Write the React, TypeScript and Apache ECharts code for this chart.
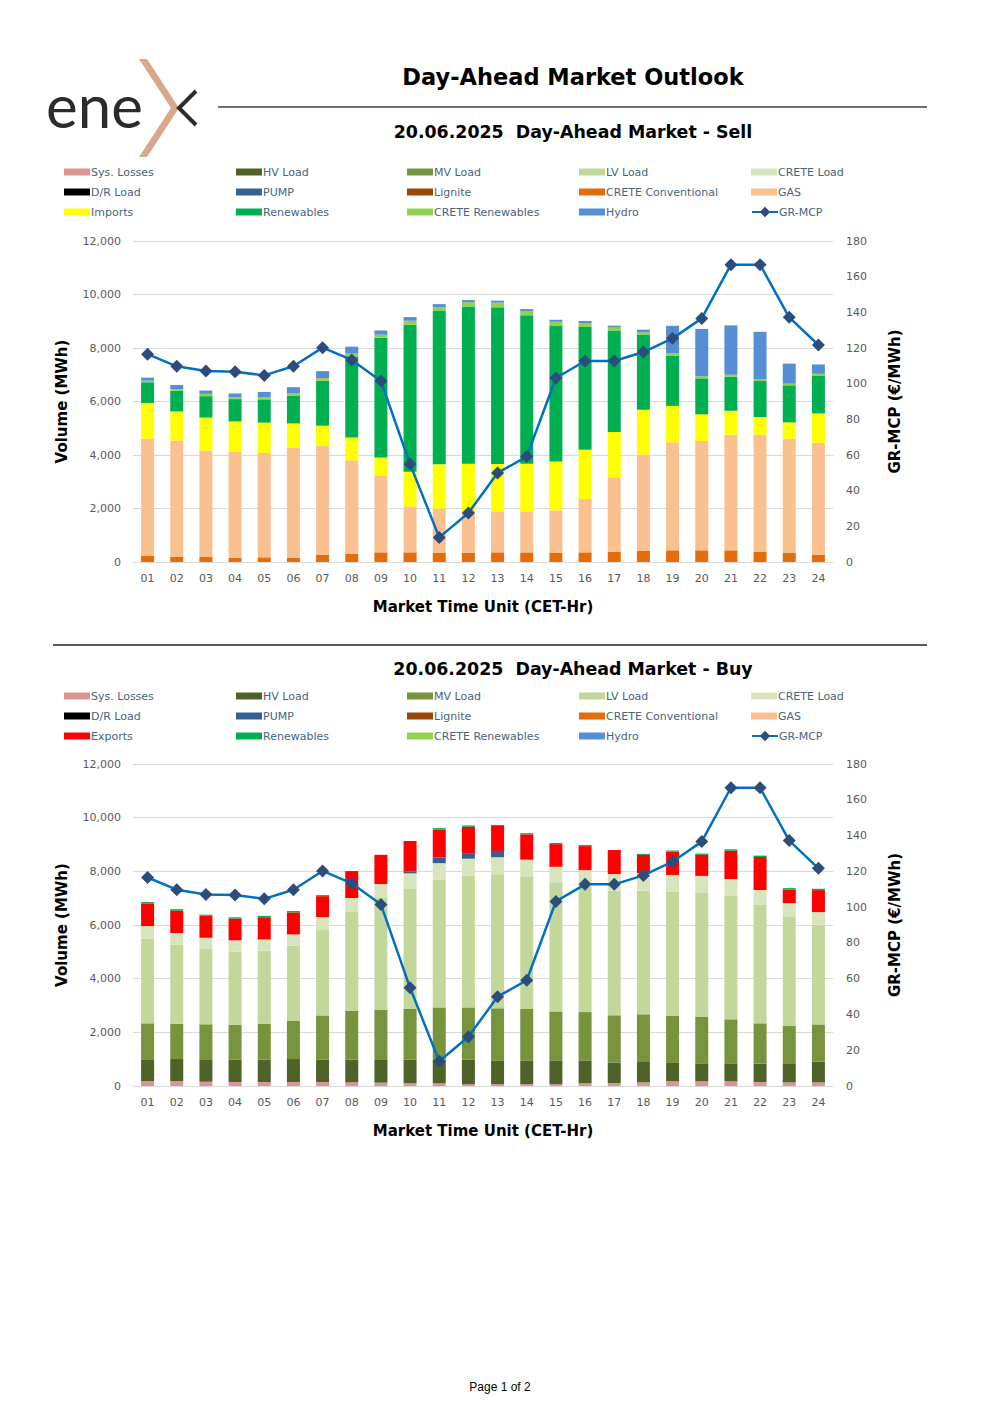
import React, { useEffect, useRef } from "react";
import * as echarts from "echarts";

const hours = ["01","02","03","04","05","06","07","08","09","10","11","12","13","14","15","16","17","18","19","20","21","22","23","24"];
const volumeTicks = { min: 0, max: 12000, interval: 2000 };
const priceTicks = { min: 0, max: 180, interval: 20 };

// GR-MCP (€/MWh)
const grMcp = [116.55,109.73,107.06,106.72,104.62,109.73,120.21,113.29,101.49,54.9,13.8,27.5,49.93,59.1,103.2,112.71,112.71,117.72,125.4,136.61,166.72,166.72,137.2,121.7];

// SELL (MWh)
const sellLignite: number[] = [];
const sellDrLoad: number[] = [];
const sellCreteConv = [240,200,190,160,175,165,275,310,360,360,350,350,360,360,350,360,385,425,435,435,435,385,335,275];
const sellGas = [4370,4335,3975,3975,3900,4095,4060,3490,2880,1720,1645,1550,1535,1535,1580,1995,2780,3590,4040,4090,4325,4375,4275,4185];
const sellImports = [1335,1095,1235,1120,1135,920,760,850,670,1295,1655,1775,1770,1780,1830,1845,1695,1680,1360,995,895,660,610,1095];
const sellRenewables = [775,770,800,835,870,1045,1680,3015,4475,5495,5730,5880,5855,5545,5060,4585,3790,2790,1870,1345,1270,1345,1385,1420];
const sellCreteRen = [60,65,85,75,75,75,100,125,110,150,150,160,175,150,160,135,110,100,90,75,75,60,60,60];
const sellHydro = [110,150,125,135,200,235,260,260,160,135,110,75,75,85,75,90,75,100,1035,1770,1845,1780,750,350];

// BUY (MWh)
const buySysLosses = [185,185,160,150,150,150,150,135,125,100,100,75,75,75,75,100,110,135,175,175,175,150,135,135];
const buyHv = [810,820,835,830,830,855,830,845,845,880,880,905,880,880,880,855,760,760,685,670,670,680,685,770];
const buyMv = [1340,1315,1305,1305,1340,1430,1650,1815,1875,1890,1950,1950,1940,1915,1825,1800,1765,1775,1750,1740,1640,1505,1415,1390];
const buyLv = [3155,2945,2805,2720,2720,2795,3180,3690,4160,4470,4755,4905,4995,4945,4810,4670,4645,4610,4635,4610,4610,4410,4060,3715];
const buyCreteLoad = [470,435,420,425,420,420,485,520,520,585,620,635,635,620,580,620,620,650,620,635,620,560,520,470];
const buyPump = [0,0,0,0,0,0,0,0,0,75,210,210,235,0,0,0,0,0,0,0,0,0,0,0];
const buyExports = [845,830,820,805,830,820,780,1005,1090,1130,1045,980,930,945,845,895,895,680,870,780,1055,1230,510,820];
const buyRenewables = [50,60,40,50,50,50,40,0,0,0,50,50,40,40,40,40,0,40,40,50,50,50,50,50];

const C = {
  sysLosses: "#da9694",
  hv: "#4f6228",
  mv: "#77933c",
  lv: "#c4d79b",
  creteLoad: "#d8e4bc",
  dr: "#000000",
  pump: "#366092",
  lignite: "#974706",
  creteConv: "#e46c0a",
  gas: "#fac090",
  imports: "#ffff00",
  exports: "#ff0000",
  renewables: "#00b050",
  creteRen: "#92d050",
  hydro: "#558ed5",
  line: "#0070c0",
  marker: "#2c4d7c",
};

const sellLegendCols = [
  ["Sys. Losses", "D/R Load", "Imports"],
  ["HV Load", "PUMP", "Renewables"],
  ["MV Load", "Lignite", "CRETE Renewables"],
  ["LV Load", "CRETE Conventional", "Hydro"],
  ["CRETE Load", "GAS"],
];
const buyLegendCols = [
  ["Sys. Losses", "D/R Load", "Exports"],
  ["HV Load", "PUMP", "Renewables"],
  ["MV Load", "Lignite", "CRETE Renewables"],
  ["LV Load", "CRETE Conventional", "Hydro"],
  ["CRETE Load", "GAS"],
];

const FONT = "DejaVu Sans";

export default function App() {
  const ref = useRef<HTMLDivElement>(null);
  useEffect(() => {
    if (!ref.current) return;
    const chart = echarts.init(ref.current, undefined, { renderer: "svg" });

    const colLeft = [64, 236, 407, 579, 751];
    const legendText = { fontFamily: FONT, fontSize: 11, color: "#47647a", lineHeight: 20, padding: [0, 0, 0, -4] };
    const mkLegends = (cols: string[][], top: number) => [
      ...cols.map((names, i) => ({
        orient: "vertical",
        left: colLeft[i],
        top,
        padding: 0,
        itemGap: 0,
        itemWidth: 26,
        itemHeight: 7,
        selectedMode: false,
        textStyle: legendText,
        data: names.map((n) => ({ name: n, icon: "rect" })),
      })),
      {
        orient: "vertical",
        left: 751,
        top: top + 40,
        padding: 0,
        itemGap: 0,
        itemWidth: 26,
        itemHeight: 13,
        selectedMode: false,
        textStyle: legendText,
        data: [{ name: "GR-MCP" }],
      },
    ];

    const bar = (name: string, data: number[], color: string, idx: number, stack: string) => ({
      name,
      type: "bar",
      stack,
      data,
      barWidth: 13,
      xAxisIndex: idx,
      yAxisIndex: idx * 2,
      itemStyle: { color },
      emphasis: { disabled: true },
    });
    const line = (idx: number) => ({
      name: "GR-MCP",
      type: "line",
      data: grMcp,
      xAxisIndex: idx,
      yAxisIndex: idx * 2 + 1,
      symbol: "diamond",
      symbolSize: 13,
      z: 5,
      lineStyle: { color: C.line, width: 2.5 },
      itemStyle: { color: C.marker },
      emphasis: { disabled: true },
    });

    const xAxis = (idx: number) => ({
      type: "category",
      gridIndex: idx,
      data: hours,
      axisLine: { lineStyle: { color: "#d9d9d9", width: 1 } },
      axisTick: { show: false },
      axisLabel: { interval: 0, fontFamily: FONT, fontSize: 11, color: "#595959", margin: 11 },
      name: "Market Time Unit (CET-Hr)",
      nameLocation: "middle",
      nameGap: 37,
      nameTextStyle: { fontFamily: FONT, fontSize: 15, fontWeight: "bold", color: "#000" },
    });
    const yLeft = (idx: number) => ({
      type: "value",
      gridIndex: idx,
      ...volumeTicks,
      axisLine: { show: false },
      axisTick: { show: false },
      splitLine: { lineStyle: { color: "#d9d9d9", width: 1 } },
      axisLabel: {
        fontFamily: FONT,
        fontSize: 11,
        color: "#595959",
        margin: 12,
        formatter: (v: number) => v.toLocaleString("en-US"),
      },
      name: "Volume (MWh)",
      nameLocation: "middle",
      nameRotate: 90,
      nameGap: 64,
      nameTextStyle: { fontFamily: FONT, fontSize: 15, fontWeight: "bold", color: "#000" },
    });
    const yRight = (idx: number) => ({
      type: "value",
      gridIndex: idx,
      position: "right",
      ...priceTicks,
      axisLine: { show: false },
      axisTick: { show: false },
      splitLine: { show: false },
      axisLabel: { fontFamily: FONT, fontSize: 11, color: "#595959", margin: 13 },
      name: "GR-MCP (€/MWh)",
      nameLocation: "middle",
      nameRotate: 90,
      nameGap: 54,
      nameTextStyle: { fontFamily: FONT, fontSize: 15, fontWeight: "bold", color: "#000" },
    });

    chart.setOption({
      animation: false,
      backgroundColor: "#ffffff",
      grid: [
        { left: 133, width: 700, top: 241, height: 321 },
        { left: 133, width: 700, top: 764, height: 322 },
      ],
      legend: [...mkLegends(sellLegendCols, 162), ...mkLegends(buyLegendCols, 686)],
      xAxis: [xAxis(0), xAxis(1)],
      yAxis: [yLeft(0), yRight(0), yLeft(1), yRight(1)],
      series: [
        bar("Lignite", sellLignite, C.lignite, 0, "sell"),
        bar("D/R Load", sellDrLoad, C.dr, 0, "sell"),
        bar("CRETE Conventional", sellCreteConv, C.creteConv, 0, "sell"),
        bar("GAS", sellGas, C.gas, 0, "sell"),
        bar("Imports", sellImports, C.imports, 0, "sell"),
        bar("Renewables", sellRenewables, C.renewables, 0, "sell"),
        bar("CRETE Renewables", sellCreteRen, C.creteRen, 0, "sell"),
        bar("Hydro", sellHydro, C.hydro, 0, "sell"),
        line(0),
        bar("Sys. Losses", buySysLosses, C.sysLosses, 1, "buy"),
        bar("HV Load", buyHv, C.hv, 1, "buy"),
        bar("MV Load", buyMv, C.mv, 1, "buy"),
        bar("LV Load", buyLv, C.lv, 1, "buy"),
        bar("CRETE Load", buyCreteLoad, C.creteLoad, 1, "buy"),
        bar("PUMP", buyPump, C.pump, 1, "buy"),
        bar("Exports", buyExports, C.exports, 1, "buy"),
        bar("Renewables", buyRenewables, C.renewables, 1, "buy"),
        line(1),
      ],
      graphic: [
        // logo
        {
          type: "text",
          x: 46,
          y: 105,
          style: { text: "ene", fontFamily: "Lato", fontWeight: "normal", fontSize: 60, fill: "#2b2b2b", textVerticalAlign: "middle" },
        },
        {
          type: "polygon",
          shape: { points: [[139, 59], [147, 59], [179, 108], [147, 157], [139, 157], [171, 108]] },
          style: { fill: "#d9a88c" },
        },
        {
          type: "polyline",
          shape: { points: [[196, 91], [179, 108], [196, 125]] },
          style: { stroke: "#2b2b2b", lineWidth: 4, fill: null },
        },
        // titles
        {
          type: "text",
          x: 573,
          y: 77,
          style: { text: "Day-Ahead Market Outlook", fontFamily: FONT, fontWeight: "bold", fontSize: 22.5, fill: "#000", textAlign: "center", textVerticalAlign: "middle" },
        },
        {
          type: "line",
          shape: { x1: 218, y1: 107, x2: 927, y2: 107 },
          style: { stroke: "#404040", lineWidth: 1.3 },
        },
        {
          type: "text",
          x: 573,
          y: 132,
          style: { text: "20.06.2025  Day-Ahead Market - Sell", fontFamily: FONT, fontWeight: "bold", fontSize: 17.4, fill: "#000", textAlign: "center", textVerticalAlign: "middle" },
        },
        {
          type: "line",
          shape: { x1: 53, y1: 645, x2: 927, y2: 645 },
          style: { stroke: "#595959", lineWidth: 2 },
        },
        {
          type: "text",
          x: 573,
          y: 669,
          style: { text: "20.06.2025  Day-Ahead Market - Buy", fontFamily: FONT, fontWeight: "bold", fontSize: 17.4, fill: "#000", textAlign: "center", textVerticalAlign: "middle" },
        },
        {
          type: "text",
          x: 500,
          y: 1387,
          style: { text: "Page 1 of 2", fontFamily: "Liberation Sans", fontSize: 12, fill: "#000", textAlign: "center", textVerticalAlign: "middle" },
        },
      ],
    });
    return () => chart.dispose();
  }, []);
  return <div ref={ref} style={{ position: "absolute", left: 0, top: 0, width: 1000, height: 1415 }} />;
}
